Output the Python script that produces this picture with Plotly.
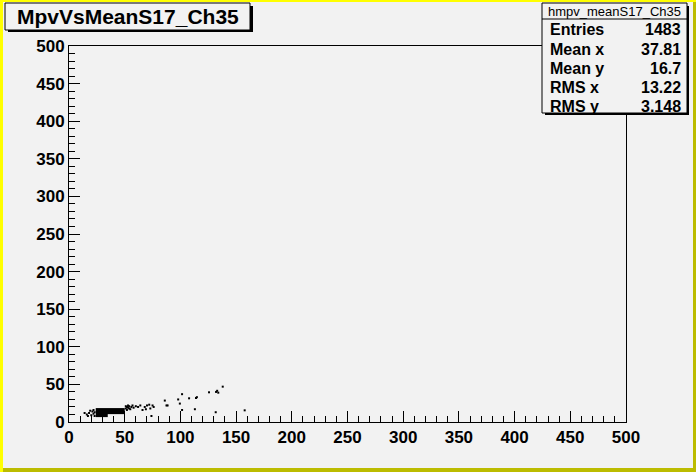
import plotly.graph_objects as go

# ---- data ----
title_text = "MpvVsMeanS17_Ch35"
hist_name = "hmpv_meanS17_Ch35"
stat_labels = ["Entries", "Mean x", "Mean y", "RMS x", "RMS y"]
stat_values = ["1483", "37.81", "16.7", "13.22", "3.148"]

# dense core of the 2D histogram (occupied cells)
core_x_edges = [24, 35, 50]
core_y_edges = [6.5, 10.5, 18.5]
core_occupancy = [[1, None], [1, 1]]

# isolated scatter entries
pts_x = [14, 16, 17, 18, 19, 20, 21, 22, 22, 23, 23,
         51, 51, 52, 52, 53, 53, 54, 54, 55, 56, 57, 58, 60, 62, 64, 66, 68, 69, 70, 72, 73, 75, 76,
         74, 86, 87.5, 88.5, 98, 99.5, 101.5, 101.5, 107.8, 113, 114, 114.8,
         125.7, 131.7, 132, 133, 134, 138, 157.7]
pts_y = [12, 10, 8, 12, 15, 9, 14, 11, 16, 8, 13,
         18, 21, 16, 20, 19, 22, 18, 21, 17, 20, 22, 19, 21, 20, 22, 16, 20, 17, 22, 23, 18, 22, 20,
         8, 28.5, 22, 22, 30, 24.5, 37, 16, 31.5, 17, 32, 33,
         39.5, 13, 40, 41.5, 39, 47, 15.5]

x_ticks = list(range(0, 501, 50))
y_ticks = list(range(0, 501, 50))
x_tick_labels = [str(v) for v in x_ticks]
y_tick_labels = [str(v) for v in y_ticks]

# ---- layout geometry ----
W, H = 696, 472
ML, MR, MT, MB = 69, 70, 46, 50
PW, PH = W - ML - MR, H - MT - MB
BG = "#f2f2f2"
FONT = "Liberation Sans, Arial, sans-serif"


def px(x):
    return (x - ML) / PW


def py(y):
    return (H - MB - y) / PH


fig = go.Figure()

fig.add_trace(go.Heatmap(
    x=core_x_edges, y=core_y_edges, z=core_occupancy,
    colorscale=[[0, "black"], [1, "black"]], zmin=0, zmax=1,
    showscale=False, hoverinfo="skip"))

fig.add_trace(go.Scatter(
    x=pts_x, y=pts_y, mode="markers",
    marker=dict(symbol="square", size=2, color="black", line=dict(width=0)),
    hoverinfo="skip"))

tickfont = dict(family=FONT, size=17, color="black")

fig.update_xaxes(range=[0, 500], tickvals=x_ticks, ticktext=["<b>%s</b>" % t for t in x_tick_labels],
                 ticks="inside", ticklen=11,
                 tickwidth=1, tickcolor="black", showline=True, linecolor="black",
                 linewidth=1, mirror=True, showgrid=False, zeroline=False,
                 tickfont=tickfont,
                 minor=dict(dtick=10, ticks="inside", ticklen=6, tickcolor="black", tickwidth=1))
fig.update_yaxes(range=[0, 500], tickvals=y_ticks, ticktext=["<b>%s</b>" % t for t in y_tick_labels],
                 ticks="inside", ticklen=11,
                 tickwidth=1, tickcolor="black", showline=True, linecolor="black",
                 linewidth=1, mirror=True, showgrid=False, zeroline=False,
                 tickfont=tickfont,
                 minor=dict(dtick=10, ticks="inside", ticklen=6, tickcolor="black", tickwidth=1))

shapes = []
# canvas border
shapes.append(dict(type="rect", xref="paper", yref="paper", x0=px(0), x1=px(3), y0=py(H), y1=py(0),
                   fillcolor="#ffff00", line=dict(width=0), layer="above"))
shapes.append(dict(type="rect", xref="paper", yref="paper", x0=px(0), x1=px(W), y0=py(2), y1=py(0),
                   fillcolor="#ffff00", line=dict(width=0), layer="above"))
shapes.append(dict(type="rect", xref="paper", yref="paper", x0=px(W - 3), x1=px(W), y0=py(H), y1=py(2),
                   fillcolor="#bcbc00", line=dict(width=0), layer="above"))
shapes.append(dict(type="rect", xref="paper", yref="paper", x0=px(3), x1=px(W), y0=py(H), y1=py(H - 4),
                   fillcolor="#bcbc00", line=dict(width=0), layer="above"))

# title box with shadow
shapes.append(dict(type="rect", xref="paper", yref="paper", x0=px(8), x1=px(253), y0=py(32), y1=py(6),
                   fillcolor="black", line=dict(width=0), layer="above"))
shapes.append(dict(type="rect", xref="paper", yref="paper", x0=px(5), x1=px(250), y0=py(30), y1=py(3),
                   fillcolor=BG, line=dict(color="black", width=1), layer="above"))

# stats box with shadow
shapes.append(dict(type="rect", xref="paper", yref="paper", x0=px(545), x1=px(689), y0=py(115), y1=py(6),
                   fillcolor="black", line=dict(width=0), layer="above"))
shapes.append(dict(type="rect", xref="paper", yref="paper", x0=px(542), x1=px(687), y0=py(113), y1=py(3),
                   fillcolor=BG, line=dict(color="black", width=1), layer="above"))
shapes.append(dict(type="line", xref="paper", yref="paper", x0=px(542), x1=px(687), y0=py(19), y1=py(19),
                   line=dict(color="black", width=1), layer="above"))
fig.update_layout(shapes=shapes)

ann = []
ann.append(dict(xref="paper", yref="paper", x=px(128), y=py(17), text="<b>%s</b>" % title_text,
                showarrow=False, xanchor="center", yanchor="middle",
                font=dict(family=FONT, size=21, color="black")))
ann.append(dict(xref="paper", yref="paper", x=px(614.5), y=py(11), text=hist_name,
                showarrow=False, xanchor="center", yanchor="middle",
                font=dict(family=FONT, size=13, color="black")))
row_y = [30, 49.5, 68.5, 87.5, 106.5]
for lab, val, yy in zip(stat_labels, stat_values, row_y):
    ann.append(dict(xref="paper", yref="paper", x=px(548), y=py(yy), text="<b>%s</b>" % lab,
                    showarrow=False, xanchor="left", yanchor="middle",
                    font=dict(family=FONT, size=16, color="black")))
    ann.append(dict(xref="paper", yref="paper", x=px(683), y=py(yy), text="<b>%s</b>" % val,
                    showarrow=False, xanchor="right", yanchor="middle",
                    font=dict(family=FONT, size=16, color="black")))
fig.update_layout(annotations=ann)

fig.update_layout(width=W, height=H, margin=dict(l=ML, r=MR, t=MT, b=MB, pad=0),
                  paper_bgcolor=BG, plot_bgcolor=BG, showlegend=False,
                  font=dict(family=FONT, color="black"))

fig.write_html("out.html", config={"displayModeBar": False},
               post_script="document.body.style.margin='0';document.body.style.overflow='hidden';")
